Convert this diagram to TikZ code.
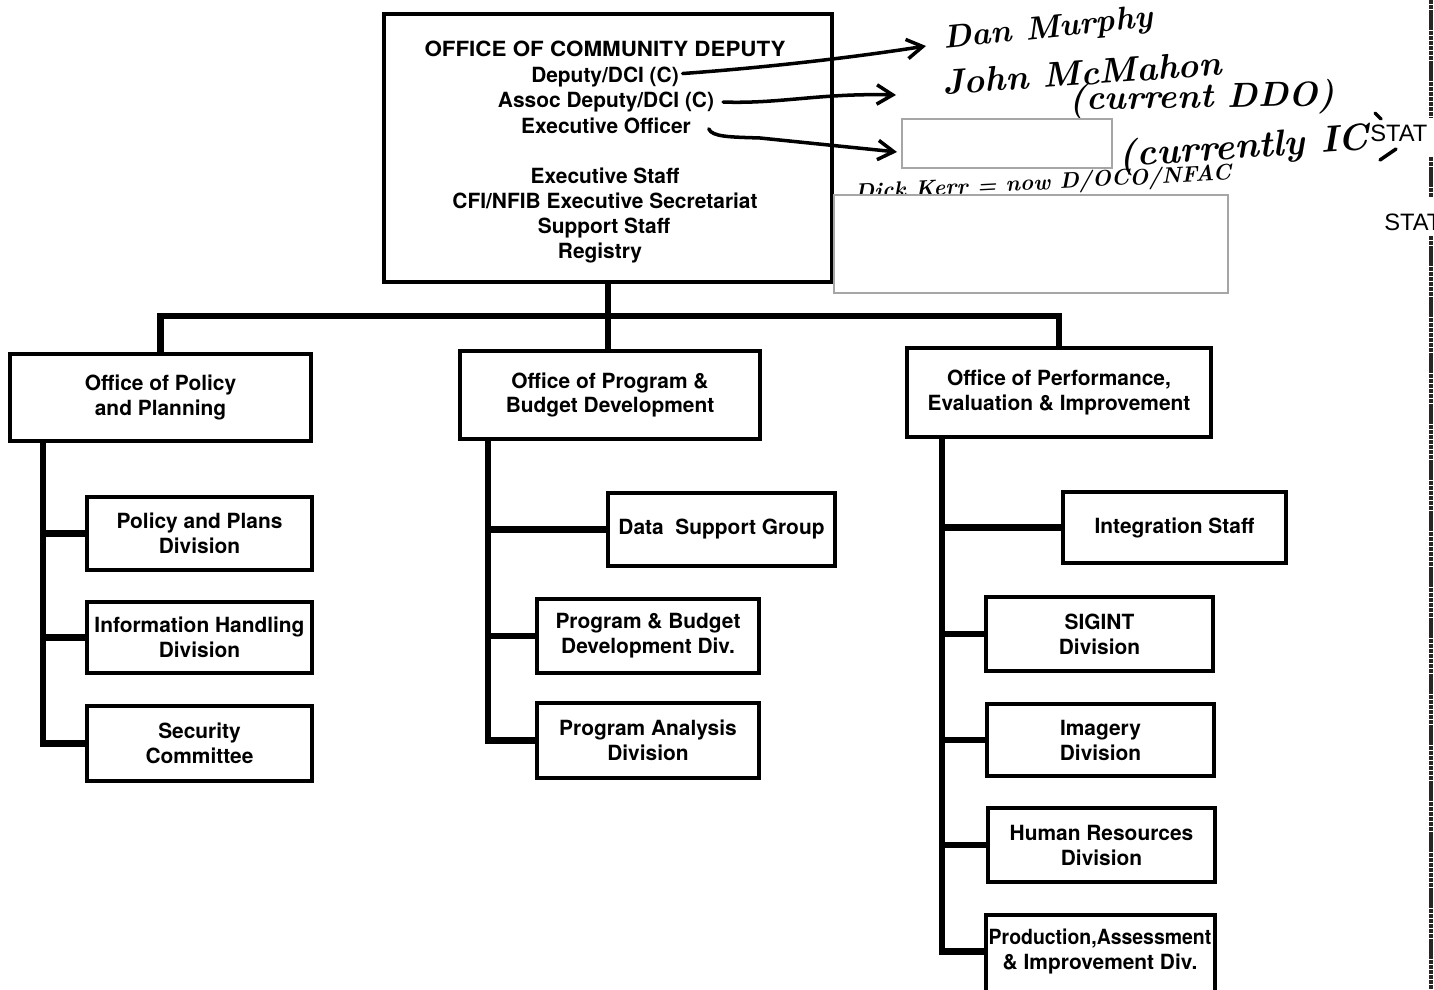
\documentclass[tikz,border=0pt]{standalone}
\usepackage{fontspec}
\usepackage{graphicx}
\usetikzlibrary{arrows.meta}
\newfontfamily\orgfont{TeX Gyre Heros}
\newfontfamily\statfont{Liberation Sans}
\newcommand\orgtext{\orgfont\bfseries\fontsize{11.9pt}{14.2pt}\selectfont}

\tikzset{
  orgbox/.style={draw, line width=2.27pt, fill=white, inner sep=0pt,
    align=center, font=\orgtext},
  orgline/.style={inner sep=0pt, anchor=base, font=\orgtext},
  orgblock/.style={inner sep=0pt, align=center, font=\orgtext},
  conn/.style={line width=3.7pt, line join=miter},
  handarrow/.style={line width=2pt, line cap=round, line join=round,
    -{Straight Barb[length=9pt, width=11pt]}},
  handstroke/.style={line width=2pt, line cap=round},
  handtext/.style={inner sep=0pt, font=\bfseries\itshape},
  redact/.style={draw=black!35, line width=0.7pt, fill=white},
  scanedge/.style={draw=black!85, line width=2.6pt, dash pattern=on 2.5pt off 0.4pt},
  statlabel/.style={inner sep=0pt, anchor=base west,
    font=\statfont\fontsize{13.5pt}{16pt}\selectfont}
}

\begin{document}
\begin{tikzpicture}[x=0.02cm, y=-0.02cm]
\useasboundingbox (0,0) rectangle (1434,990);
\fill[white] (0,0) rectangle (1434,990);
\clip (0,0) rectangle (1434,990);

% --- top office ---
\node[orgbox, minimum width=8.96cm, minimum height=5.36cm] (cd) at (608,148) {};
\node[orgline] (t1) at (605,57) {\scalebox{1.07}[1]{OFFICE OF COMMUNITY DEPUTY}};
\node[orgline] (t2) at (605,82.5) {Deputy/DCI (C)};
\node[orgline] (t3) at (606,107.5) {Assoc Deputy/DCI (C)};
\node[orgline] (t4) at (606,133) {Executive Officer};
\node[orgline] (t5) at (605,183.5) {Executive Staff};
\node[orgline] (t6) at (605,208.5) {CFI/NFIB Executive Secretariat};
\node[orgline] (t7) at (604,233.5) {Support Staff};
\node[orgline] (t8) at (600,258) {Registry};

% --- second level offices ---
\node[orgbox, minimum width=6.02cm, minimum height=1.74cm] (opp) at (160.5,397.5)
  {Office of Policy\\and Planning};
\node[orgbox, minimum width=6.00cm, minimum height=1.76cm] (opbd) at (610,395)
  {Office of Program \&\\Budget Development};
\node[orgbox, minimum width=6.08cm, minimum height=1.78cm] (opei) at (1059,392.5)
  {Office of Performance,\\Evaluation \& Improvement};

% --- divisions under Policy and Planning ---
\node[orgbox, minimum width=4.50cm, minimum height=1.46cm] (ppd) at (199.5,533.5)
  {Policy and Plans\\Division};
\node[orgbox, minimum width=4.50cm, minimum height=1.42cm] (ihd) at (199.5,637.5)
  {Information Handling\\Division};
\node[orgbox, minimum width=4.50cm, minimum height=1.50cm] (sc) at (199.5,743.5)
  {Security\\Committee};

% --- divisions under Program & Budget Development ---
\node[orgbox, minimum width=4.54cm, minimum height=1.46cm] (dsg) at (721.5,529.5)
  {Data\ \ Support Group};
\node[orgbox, minimum width=4.44cm, minimum height=1.48cm] (pbdd) at (648,636)
  {Program \& Budget\\Development Div.};
\node[orgbox, minimum width=4.44cm, minimum height=1.50cm] (pad) at (648,740.5)
  {Program Analysis\\Division};

% --- divisions under Performance, Evaluation & Improvement ---
\node[orgbox, minimum width=4.46cm, minimum height=1.42cm] (is) at (1174.5,527.5)
  {Integration Staff};
\node[orgbox, minimum width=4.54cm, minimum height=1.48cm] (sig) at (1099.5,634)
  {SIGINT\\Division};
\node[orgbox, minimum width=4.54cm, minimum height=1.44cm] (img) at (1100.5,740)
  {Imagery\\Division};
\node[orgbox, minimum width=4.54cm, minimum height=1.48cm] (hrd) at (1101.5,845)
  {Human Resources\\Division};
\node[orgbox, minimum width=4.58cm, minimum height=2.00cm] (pai) at (1100.5,965) {};
\node[orgblock] (paitext) at (1100,951.5)
  {\scalebox{0.93}[1]{Production,Assessment}\\\& Improvement Div.};

% --- connectors ---
\coordinate (bus) at (608,316);
\coordinate (lsx) at (43,0);
\coordinate (msx) at (488,0);
\coordinate (rsx) at (942,0);

\draw[conn] (cd.south) -- (cd.south |- opbd.north);
\draw[conn] (opp.north) |- (bus) -| (opei.north);

\draw[conn] (opp.south -| lsx) |- (sc.west);
\draw[conn] (lsx |- ppd.west) -- (ppd.west);
\draw[conn] (lsx |- ihd.west) -- (ihd.west);

\draw[conn] (opbd.south -| msx) |- (pad.west);
\draw[conn] (msx |- dsg.west) -- (dsg.west);
\draw[conn] (msx |- pbdd.west) -- (pbdd.west);

\draw[conn] (opei.south -| rsx) |- (pai.west |- paitext);
\draw[conn] (rsx |- is.west) -- (is.west);
\draw[conn] (rsx |- sig.west) -- (sig.west);
\draw[conn] (rsx |- img.west) -- (img.west);
\draw[conn] (rsx |- hrd.west) -- (hrd.west);

% --- handwritten notes ---
\node[handtext, rotate=6] (hw1) at (1048,30) {\resizebox{4.2cm}{!}{Dan Murphy}};
\node[handtext, rotate=4] (hw2) at (1082,73) {\resizebox{5.6cm}{!}{John McMahon}};
\node[handtext, rotate=1] (hw3) at (1202,99) {\resizebox{5.3cm}{!}{(current DDO)}};
\node[handtext, rotate=4] (hw4) at (1244,149) {\resizebox{5.0cm}{!}{(currently IC}};
\node[handtext, rotate=3] (hw5) at (1043,184) {\resizebox{7.54cm}{!}{Dick Kerr = now D/OCO/NFAC}};

\coordinate (a1) at (926,46);
\coordinate (a2) at (896,95);
\coordinate (a3) at (897,152);
\draw[handarrow] ([xshift=2pt,yshift=2pt]t2.east) .. controls (760,68) and (850,58) .. (a1);
\draw[handarrow] ([xshift=5pt]t3.east) .. controls (780,104) and (820,93) .. (a2);
\draw[handarrow] ([xshift=10pt,yshift=-2pt]t4.east) .. controls (712,137) and (730,137) .. (760,138) -- (a3);
\draw[handstroke] (1380,160) -- (1396,149);
\draw[handstroke] (1375,113) -- (1381,119);

% --- blanked-out areas ---
\path[redact] (902,119) rectangle (1112,168);
\path[redact] (834,195) rectangle (1228,293);

% --- margin stamps and scan edge ---
\node[statlabel] (stat1) at (1370,142) {STAT};
\node[statlabel] (stat2) at (1384,230) {STAT};
\draw[scanedge] (1431,0) -- (1431,118);
\draw[scanedge] (1431,157) -- (1431,197);
\draw[scanedge] (1431,236) -- (1431,990);
\end{tikzpicture}
\end{document}
